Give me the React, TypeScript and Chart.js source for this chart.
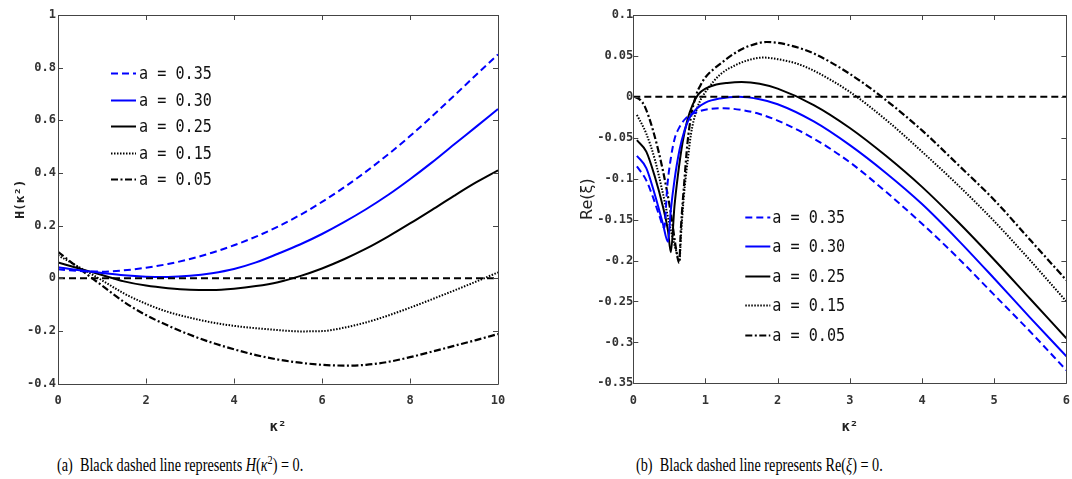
import React, { useEffect, useRef } from "react";
import { Chart, registerables } from "chart.js";

Chart.register(...registerables);

// ---------- Panel (a): H(κ²) versus κ² ----------
const hK2 = [0, 0.5, 1, 1.5, 2, 2.5, 3, 3.5, 4, 4.5, 5, 5.5, 6, 6.5, 7, 7.5, 8, 8.5, 9, 9.5, 10];
const hA035 = [0.034, 0.027, 0.025, 0.03, 0.04, 0.054, 0.073, 0.097, 0.125, 0.158, 0.196, 0.24, 0.29, 0.345, 0.405, 0.47, 0.54, 0.615, 0.693, 0.772, 0.85];
const hA030 = [0.042, 0.03, 0.02, 0.011, 0.006, 0.005, 0.009, 0.019, 0.035, 0.06, 0.093, 0.128, 0.168, 0.213, 0.262, 0.316, 0.376, 0.44, 0.508, 0.575, 0.643];
const hA025 = [0.06, 0.036, 0.012, -0.012, -0.028, -0.038, -0.044, -0.045, -0.04, -0.03, -0.015, 0.008, 0.037, 0.072, 0.112, 0.158, 0.208, 0.26, 0.313, 0.364, 0.41];
const hA015 = [0.087, 0.04, -0.008, -0.058, -0.097, -0.128, -0.15, -0.168, -0.181, -0.19, -0.197, -0.202, -0.201, -0.188, -0.168, -0.142, -0.112, -0.08, -0.047, -0.013, 0.022];
const hA005 = [0.1, 0.035, -0.028, -0.09, -0.14, -0.18, -0.215, -0.245, -0.27, -0.292, -0.309, -0.321, -0.329, -0.332, -0.329, -0.318, -0.3, -0.279, -0.257, -0.235, -0.212];

const hXTicks = [0, 2, 4, 6, 8, 10];
const hXTickLabels = ["0", "2", "4", "6", "8", "10"];
const hYTicks = [-0.4, -0.2, 0, 0.2, 0.4, 0.6, 0.8, 1];
const hYTickLabels = ["-0.4", "-0.2", "0", "0.2", "0.4", "0.6", "0.8", "1"];

// ---------- Panel (b): Re(ξ) versus κ² ----------
const reK2A035 = [0.05, 0.18, 0.27, 0.36, 0.43, 0.47, 0.52, 0.57, 0.64, 0.73, 0.87, 1.05, 1.25, 1.5, 1.75, 2.0, 2.5, 3.0, 3.5, 4.0, 4.5, 5.0, 5.5, 6.0];
const reA035 = [-0.085, -0.102, -0.122, -0.145, -0.16, -0.11, -0.075, -0.052, -0.037, -0.026, -0.019, -0.015, -0.014, -0.016, -0.021, -0.029, -0.051, -0.08, -0.116, -0.155, -0.197, -0.242, -0.287, -0.334];

const reK2A030 = [0.05, 0.18, 0.3, 0.41, 0.48, 0.52, 0.57, 0.64, 0.71, 0.77, 0.87, 1.0, 1.2, 1.46, 1.75, 2.0, 2.5, 3.0, 3.5, 4.0, 4.5, 5.0, 5.5, 6.0];
const reA030 = [-0.072, -0.087, -0.12, -0.155, -0.177, -0.138, -0.102, -0.065, -0.041, -0.027, -0.015, -0.007, -0.002, 0.0, -0.003, -0.009, -0.03, -0.059, -0.093, -0.131, -0.175, -0.222, -0.27, -0.317];

const reK2A025 = [0.05, 0.18, 0.3, 0.41, 0.48, 0.52, 0.57, 0.615, 0.68, 0.75, 0.82, 0.9, 1.0, 1.15, 1.3, 1.5, 1.75, 2.0, 2.5, 3.0, 3.5, 4.0, 4.5, 5.0, 5.5, 6.0];
const reA025 = [-0.053, -0.067, -0.098, -0.134, -0.163, -0.19, -0.134, -0.098, -0.057, -0.028, -0.01, 0.003, 0.01, 0.015, 0.017, 0.018, 0.016, 0.01, -0.01, -0.038, -0.072, -0.11, -0.153, -0.199, -0.247, -0.295];

const reK2A015 = [0.05, 0.18, 0.3, 0.41, 0.52, 0.59, 0.64, 0.66, 0.7, 0.76, 0.8, 0.87, 0.93, 1.0, 1.2, 1.4, 1.6, 1.8, 2.0, 2.25, 2.5, 3.0, 3.5, 4.0, 4.5, 5.0, 5.5, 6.0];
const reA015 = [-0.022, -0.045, -0.077, -0.118, -0.163, -0.187, -0.2, -0.17, -0.122, -0.073, -0.045, -0.018, -0.004, 0.006, 0.027, 0.038, 0.045, 0.048, 0.046, 0.041, 0.032, 0.006, -0.028, -0.067, -0.108, -0.152, -0.2, -0.25];

const reK2A005 = [0.02, 0.1, 0.16, 0.27, 0.41, 0.52, 0.6, 0.635, 0.66, 0.71, 0.75, 0.8, 0.87, 0.93, 1.0, 1.2, 1.4, 1.6, 1.85, 2.0, 2.25, 2.5, 3.0, 3.5, 4.0, 4.5, 5.0, 5.5, 6.0];
const reA005 = [0.0, -0.004, -0.012, -0.04, -0.09, -0.142, -0.19, -0.203, -0.16, -0.1, -0.057, -0.024, 0.002, 0.014, 0.024, 0.04, 0.053, 0.062, 0.067, 0.066, 0.061, 0.053, 0.028, -0.004, -0.041, -0.083, -0.126, -0.175, -0.224];

const reXTicks = [0, 1, 2, 3, 4, 5, 6];
const reXTickLabels = ["0", "1", "2", "3", "4", "5", "6"];
const reYTicks = [-0.35, -0.3, -0.25, -0.2, -0.15, -0.1, -0.05, 0, 0.05, 0.1];
const reYTickLabels = ["-0.35", "-0.3", "-0.25", "-0.2", "-0.15", "-0.1", "-0.05", "0", "0.05", "0.1"];

const legendLabels = ["a = 0.35", "a = 0.30", "a = 0.25", "a = 0.15", "a = 0.05"];

// line appearance for each value of a, in legend order
const seriesStyles = [
  { color: "#0000ff", dash: [7, 4], width: 2 },
  { color: "#0000ff", dash: [] as number[], width: 2 },
  { color: "#000000", dash: [] as number[], width: 2 },
  { color: "#000000", dash: [1.5, 1.5], width: 2 },
  { color: "#000000", dash: [7, 2.5, 2, 2.5], width: 2.2 },
];

const MONO = '"DejaVu Sans Mono", "Liberation Mono", monospace';

function buildDatasets(xs: number[][], ys: number[][], zeroFrom: number, zeroTo: number) {
  const zero = {
    label: "",
    data: [
      { x: zeroFrom, y: 0 },
      { x: zeroTo, y: 0 },
    ],
    borderColor: "#000000",
    borderDash: [7, 4],
    borderWidth: 2,
    pointRadius: 0,
    fill: false,
  };
  const curves = ys.map((y, i) => ({
    label: legendLabels[i],
    data: y.map((v, j) => ({ x: xs[i][j], y: v })),
    borderColor: seriesStyles[i].color,
    borderDash: seriesStyles[i].dash,
    borderWidth: seriesStyles[i].width,
    pointRadius: 0,
    cubicInterpolationMode: "monotone",
    fill: false,
  }));
  return [zero, ...curves];
}

// Box around the plot area with inward-pointing tick marks on all four sides
const framePlugin = {
  id: "frame",
  afterDatasetsDraw(chart: any) {
    const { ctx, chartArea, scales } = chart;
    const { left, right, top, bottom } = chartArea;
    const len = 5;
    ctx.save();
    ctx.setLineDash([]);
    ctx.lineWidth = 1;
    ctx.strokeStyle = "#444";
    ctx.beginPath();
    ctx.rect(Math.round(left) + 0.5, Math.round(top) + 0.5, Math.round(right - left), Math.round(bottom - top));
    for (const t of scales.x.ticks) {
      const px = Math.round(scales.x.getPixelForValue(t.value)) + 0.5;
      ctx.moveTo(px, bottom);
      ctx.lineTo(px, bottom - len);
      ctx.moveTo(px, top);
      ctx.lineTo(px, top + len);
    }
    for (const t of scales.y.ticks) {
      const py = Math.round(scales.y.getPixelForValue(t.value)) + 0.5;
      ctx.moveTo(left, py);
      ctx.lineTo(left + len, py);
      ctx.moveTo(right, py);
      ctx.lineTo(right - len, py);
    }
    ctx.stroke();
    ctx.restore();
  },
};

// Legend placed inside the plot area
const insetLegendPlugin = {
  id: "insetLegend",
  afterDatasetsDraw(chart: any, _args: any, opts: any) {
    if (!opts || !opts.display) return;
    const { ctx, chartArea } = chart;
    const x0 = chartArea.left + opts.dx;
    const y0 = chartArea.top + opts.dy;
    ctx.save();
    ctx.font = opts.font;
    ctx.textBaseline = "middle";
    ctx.textAlign = "left";
    let row = 0;
    chart.data.datasets.forEach((ds: any) => {
      if (!ds.label) return;
      const y = Math.round(y0 + row * opts.rowGap) + 0.5;
      ctx.strokeStyle = ds.borderColor;
      ctx.lineWidth = ds.borderWidth;
      ctx.setLineDash(ds.borderDash || []);
      ctx.beginPath();
      ctx.moveTo(x0, y);
      ctx.lineTo(x0 + opts.lineLen, y);
      ctx.stroke();
      ctx.setLineDash([]);
      ctx.fillStyle = opts.color;
      ctx.save();
      ctx.translate(x0 + opts.lineLen + opts.gap, y + 1);
      ctx.scale(opts.textScaleX, 1);
      ctx.fillText(ds.label, 0, 0);
      ctx.restore();
      row += 1;
    });
    ctx.restore();
  },
};

type PanelSpec = {
  datasets: any[];
  xMin: number;
  xMax: number;
  yMin: number;
  yMax: number;
  xTicks: number[];
  xTickLabels: string[];
  yTicks: number[];
  yTickLabels: string[];
  yAxisWidth: number;
  xAxisHeight: number;
  padding: { top: number; right: number; bottom: number; left: number };
  yTitle: string;
  yTitleFont: any;
  yTitlePad: number;
  yTickPad: number;
  legend: any;
};

function makeConfig(p: PanelSpec): any {
  const tickFont = { family: MONO, size: 12, weight: "bold" };
  return {
    type: "line",
    data: { datasets: p.datasets },
    options: {
      animation: false,
      responsive: false,
      devicePixelRatio: 1,
      layout: { padding: p.padding },
      plugins: {
        legend: { display: false },
        tooltip: { enabled: false },
        insetLegend: p.legend,
      },
      scales: {
        x: {
          type: "linear",
          min: p.xMin,
          max: p.xMax,
          afterBuildTicks: (s: any) => {
            s.ticks = p.xTicks.map((v) => ({ value: v }));
          },
          afterFit: (s: any) => {
            s.height = p.xAxisHeight;
          },
          ticks: {
            callback: (_v: any, i: number) => p.xTickLabels[i],
            font: tickFont,
            color: "#333",
            padding: 10,
            maxRotation: 0,
            autoSkip: false,
          },
          grid: { display: false, drawTicks: false },
          border: { display: false },
          title: {
            display: true,
            text: "κ²",
            font: { family: MONO, size: 14, weight: "bold" },
            color: "#222",
            padding: { top: 0, bottom: 4 },
          },
        },
        y: {
          type: "linear",
          min: p.yMin,
          max: p.yMax,
          afterBuildTicks: (s: any) => {
            s.ticks = p.yTicks.map((v) => ({ value: v }));
          },
          afterFit: (s: any) => {
            s.width = p.yAxisWidth;
          },
          ticks: {
            callback: (_v: any, i: number) => p.yTickLabels[i],
            font: tickFont,
            color: "#333",
            padding: p.yTickPad,
            autoSkip: false,
          },
          grid: { display: false, drawTicks: false },
          border: { display: false },
          title: {
            display: true,
            text: p.yTitle,
            font: p.yTitleFont,
            color: "#222",
            padding: { top: p.yTitlePad, bottom: 0 },
          },
        },
      },
    },
    plugins: [framePlugin, insetLegendPlugin],
  };
}

function ChartPanel({ spec, left, width, height }: { spec: PanelSpec; left: number; width: number; height: number }) {
  const ref = useRef<HTMLCanvasElement | null>(null);
  useEffect(() => {
    if (!ref.current) return;
    const chart = new Chart(ref.current, makeConfig(spec));
    return () => chart.destroy();
  }, [spec]);
  return (
    <canvas
      ref={ref}
      width={width}
      height={height}
      style={{ position: "absolute", left, top: 0, width, height }}
    />
  );
}

const hSpec: PanelSpec = {
  datasets: buildDatasets(
    [hK2, hK2, hK2, hK2, hK2],
    [hA035, hA030, hA025, hA015, hA005],
    0,
    10
  ),
  xMin: 0,
  xMax: 10,
  yMin: -0.4,
  yMax: 1,
  xTicks: hXTicks,
  xTickLabels: hXTickLabels,
  yTicks: hYTicks,
  yTickLabels: hYTickLabels,
  yAxisWidth: 58,
  xAxisHeight: 56.5,
  padding: { top: 15, right: 42, bottom: 0, left: 0 },
  yTitle: "H(κ²)",
  yTitleFont: { family: MONO, size: 13, weight: "bold" },
  yTitlePad: 13,
  yTickPad: 2,
  legend: {
    display: true, dx: 53, dy: 58, rowGap: 26.5, lineLen: 25, gap: 3,
    font: `17px ${MONO}`, textScaleX: 0.89, color: "#111",
  },
};

const reSpec: PanelSpec = {
  datasets: buildDatasets(
    [reK2A035, reK2A030, reK2A025, reK2A015, reK2A005],
    [reA035, reA030, reA025, reA015, reA005],
    0,
    6
  ),
  xMin: 0,
  xMax: 6,
  yMin: -0.35,
  yMax: 0.1,
  xTicks: reXTicks,
  xTickLabels: reXTickLabels,
  yTicks: reYTicks,
  yTickLabels: reYTickLabels,
  yAxisWidth: 93.3,
  xAxisHeight: 56.7,
  padding: { top: 15, right: 10, bottom: 0, left: 0 },
  yTitle: "Re(ξ)",
  yTitleFont: { family: '"DejaVu Sans", sans-serif', size: 16 },
  yTitlePad: 38,
  yTickPad: 0,
  legend: {
    display: true, dx: 112, dy: 201.5, rowGap: 29.6, lineLen: 25, gap: 2,
    font: `17px ${MONO}`, textScaleX: 0.89, color: "#111",
  },
};

const captionStyle: React.CSSProperties = {
  position: "absolute",
  top: 455,
  fontFamily: '"Liberation Serif", "Times New Roman", serif',
  fontSize: 18,
  lineHeight: "20px",
  color: "#000",
  whiteSpace: "nowrap",
  transform: "scaleX(0.79)",
  transformOrigin: "left center",
};

export default function App() {
  return (
    <div
      style={{
        position: "fixed",
        left: 0,
        top: 0,
        width: 1072,
        height: 479,
        overflow: "hidden",
        background: "#fff",
      }}
    >
      <ChartPanel spec={hSpec} left={0} width={540} height={440} />
      <ChartPanel spec={reSpec} left={540} width={540} height={440} />
      <div style={{ ...captionStyle, left: 57 }}>
        (a)&nbsp; Black dashed line represents <i>H</i>(<i>κ</i>
        <sup style={{ fontSize: 13, verticalAlign: "7px", lineHeight: 0 }}>2</sup>) = 0.
      </div>
      <div style={{ ...captionStyle, left: 636 }}>
        (b)&nbsp; Black dashed line represents Re(<i>ξ</i>) = 0.
      </div>
    </div>
  );
}
